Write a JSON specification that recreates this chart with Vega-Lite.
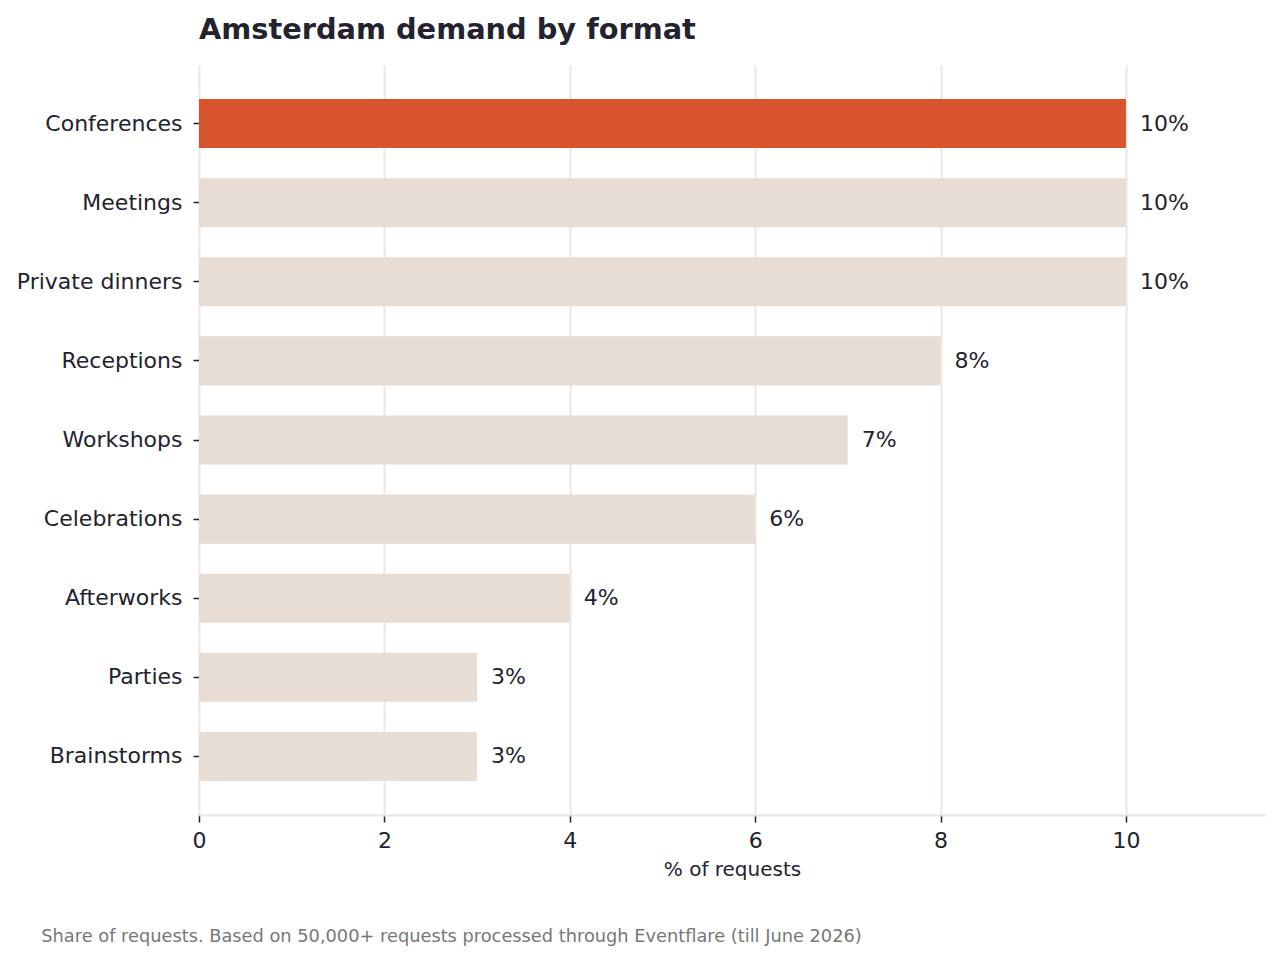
{
  "$schema": "https://vega.github.io/schema/vega-lite/v6.json",
  "background": "white",
  "padding": {"left": 16, "top": 16, "right": 5, "bottom": 5},
  "config": {
    "font": "DejaVu Sans",
    "view": {"stroke": null},
    "concat": {"spacing": 0}
  },
  "title": {
    "text": "Share of requests. Based on 50,000+ requests processed through Eventflare (till June 2026)",
    "orient": "bottom",
    "anchor": "start",
    "frame": "bounds",
    "fontSize": 17.8,
    "fontWeight": "normal",
    "color": "#777777",
    "offset": 49,
    "dx": 25
  },
  "vconcat": [
    {
      "width": 1066,
      "height": 750,
      "title": {
        "text": "Amsterdam demand by format",
        "anchor": "start",
        "frame": "group",
        "fontSize": 28.8,
        "fontWeight": "bold",
        "color": "#22232e",
        "offset": 20
      },
      "data": {
        "values": [
          {"format": "Conferences", "share": 10, "label": "10%"},
          {"format": "Meetings", "share": 10, "label": "10%"},
          {"format": "Private dinners", "share": 10, "label": "10%"},
          {"format": "Receptions", "share": 8, "label": "8%"},
          {"format": "Workshops", "share": 7, "label": "7%"},
          {"format": "Celebrations", "share": 6, "label": "6%"},
          {"format": "Afterworks", "share": 4, "label": "4%"},
          {"format": "Parties", "share": 3, "label": "3%"},
          {"format": "Brainstorms", "share": 3, "label": "3%"}
        ]
      },
      "encoding": {
        "y": {
          "field": "format",
          "type": "nominal",
          "sort": null,
          "scale": {"paddingInner": 0.38, "paddingOuter": 0.43},
          "axis": {
            "title": null,
            "domain": false,
            "grid": false,
            "ticks": true,
            "tickSize": 6,
            "tickWidth": 1.5,
            "tickColor": "#22232e",
            "labelPadding": 11,
            "labelFontSize": 22,
            "labelColor": "#22232e",
            "labelLimit": 400
          }
        },
        "x": {
          "field": "share",
          "type": "quantitative",
          "scale": {"domain": [0, 11.5], "nice": false, "zero": true},
          "axis": {
            "values": [0, 2, 4, 6, 8, 10],
            "title": "% of requests",
            "titleFontSize": 20,
            "titleFontWeight": "normal",
            "titleColor": "#22232e",
            "titlePadding": 8,
            "domain": true,
            "domainColor": "#e9e4de",
            "domainWidth": 2,
            "grid": true,
            "gridColor": "#ece7e1",
            "gridWidth": 2,
            "ticks": true,
            "tickSize": 7,
            "tickWidth": 1.5,
            "tickColor": "#22232e",
            "labelPadding": 8,
            "labelFontSize": 22,
            "labelColor": "#22232e",
            "labelFlush": false
          }
        }
      },
      "layer": [
        {
          "mark": {"type": "bar"},
          "encoding": {
            "color": {
              "condition": {"test": "datum.format === 'Conferences'", "value": "#d9532c"},
              "value": "#e7ddd4"
            }
          }
        },
        {
          "mark": {"type": "text", "align": "left", "baseline": "middle", "dx": 14, "fontSize": 22, "color": "#22232e"},
          "encoding": {
            "text": {"field": "label", "type": "nominal"}
          }
        }
      ]
    }
  ]
}
